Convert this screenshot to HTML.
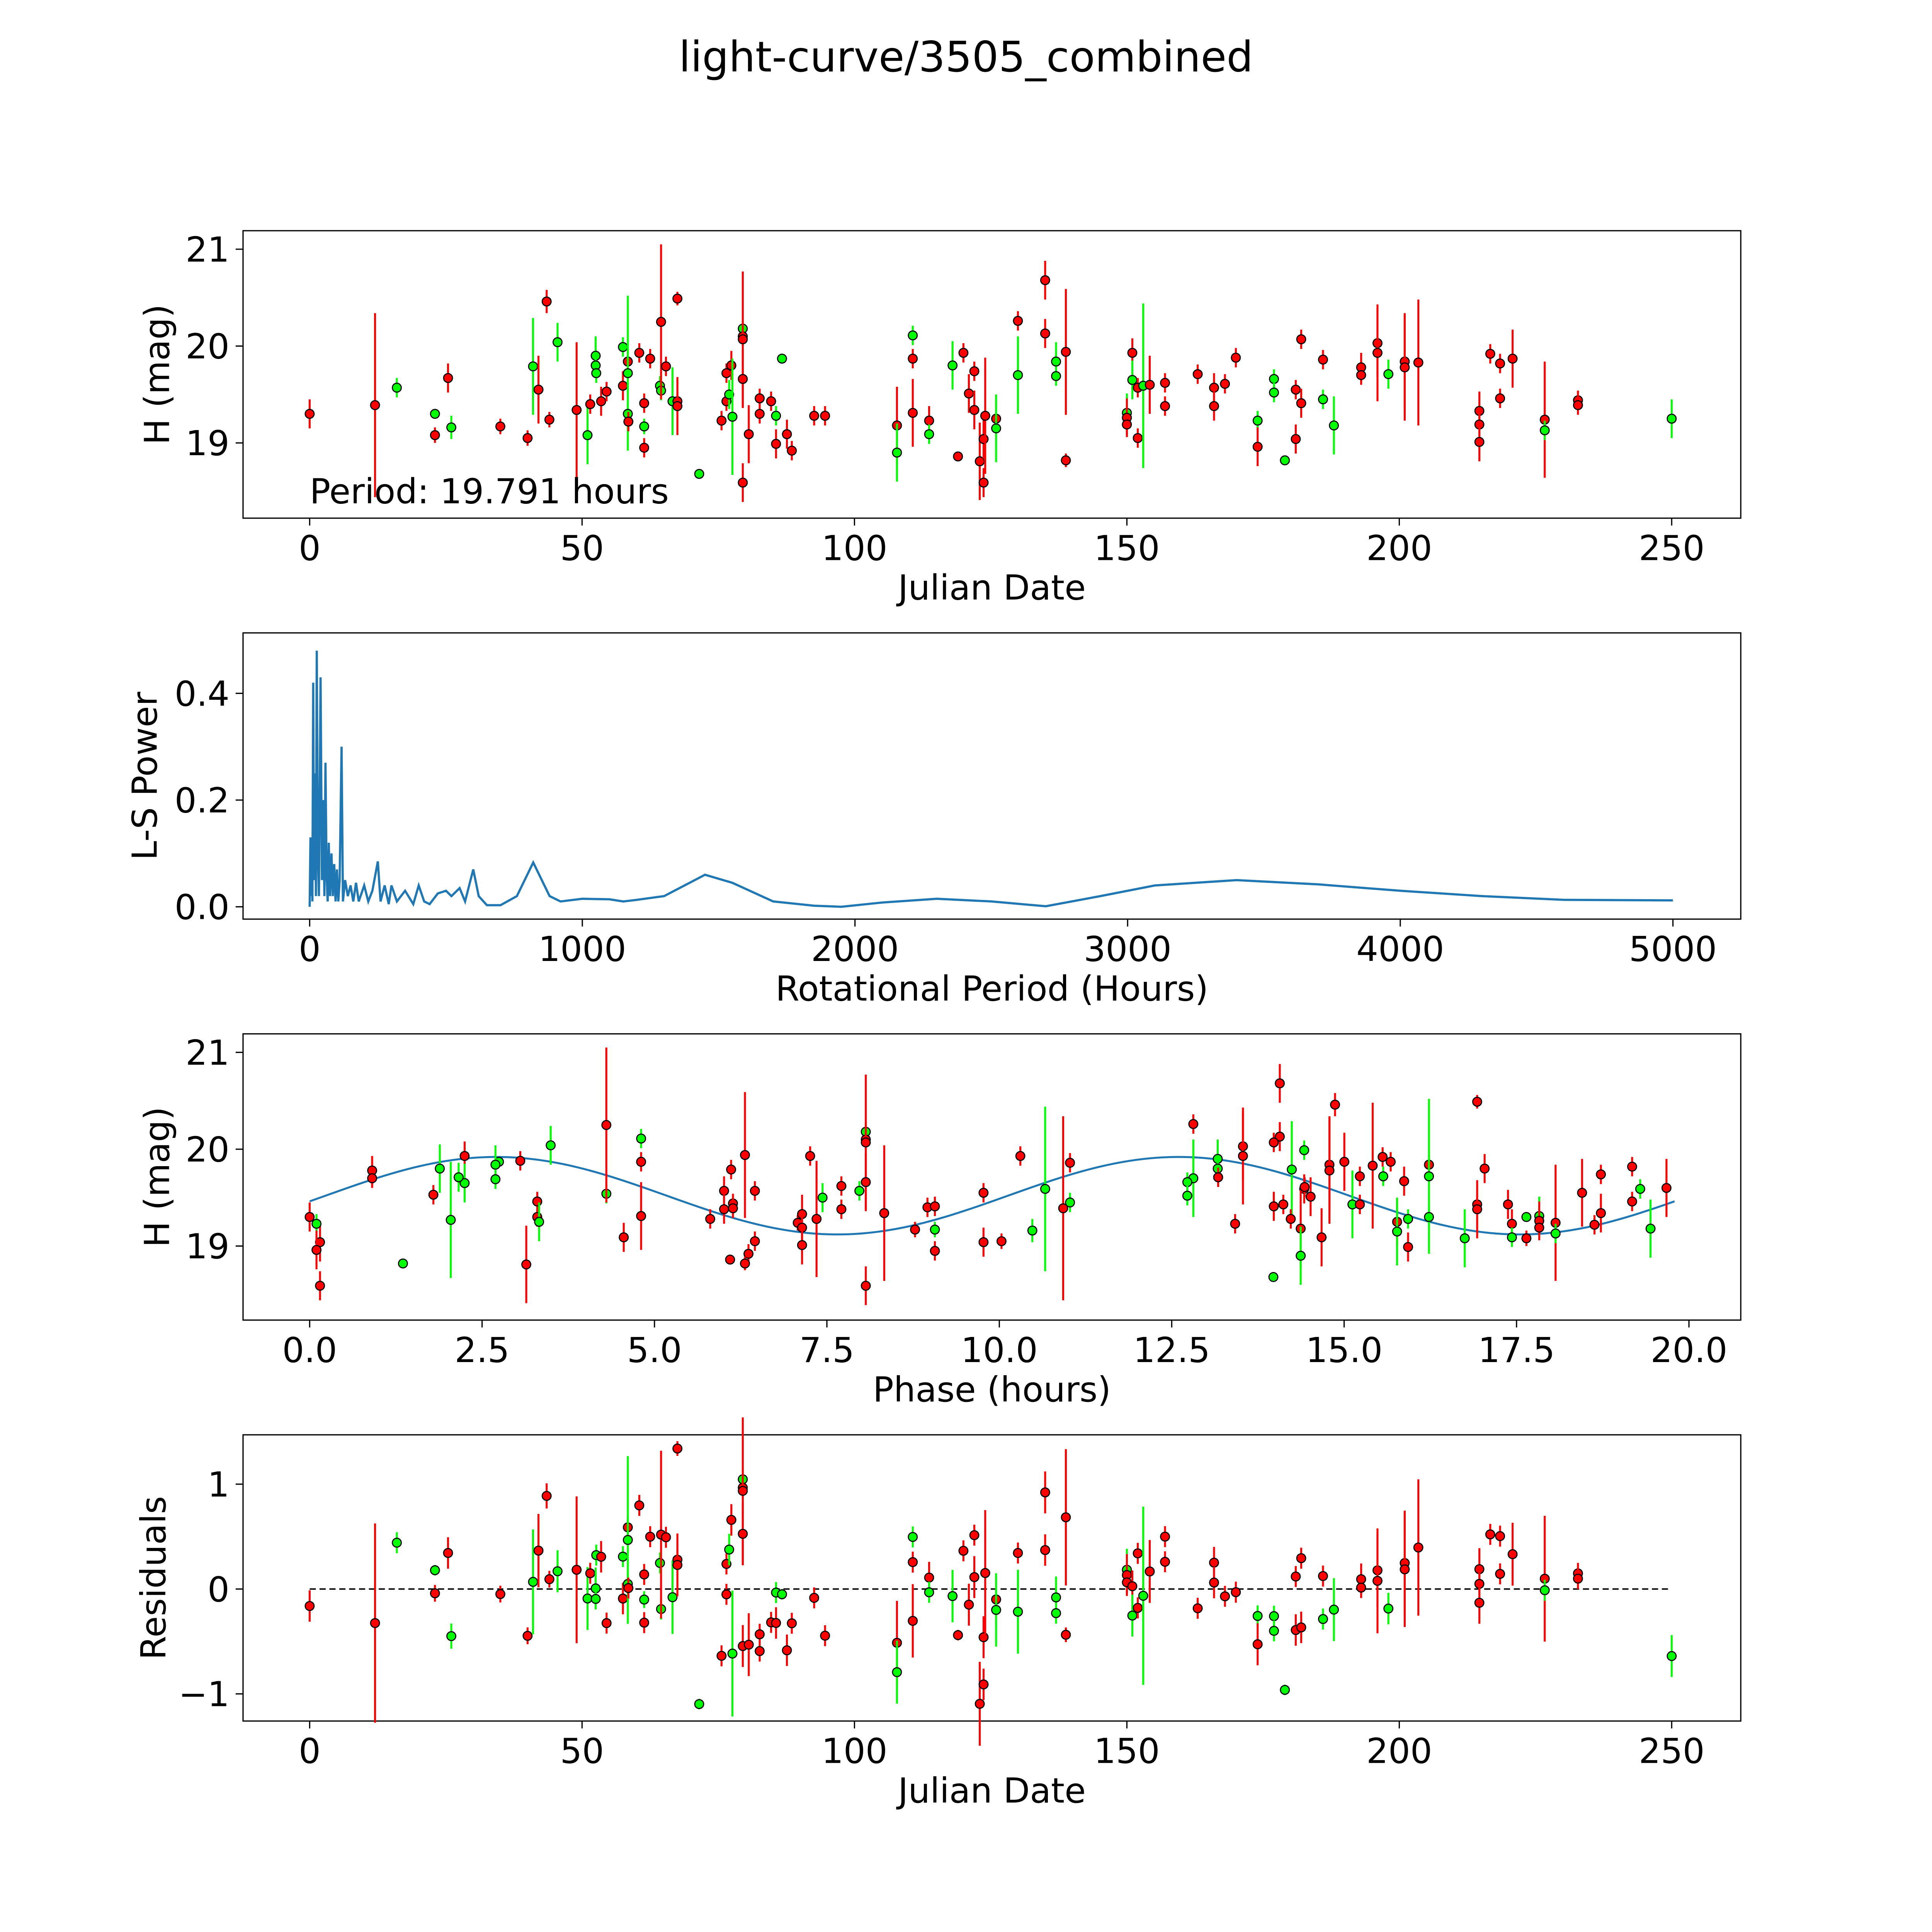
<!DOCTYPE html>
<html><head><meta charset="utf-8"><style>html,body{margin:0;padding:0;background:#fff;width:100%;height:100%;overflow:hidden}svg{display:block;width:100vw;height:100vh}text{font-family:"DejaVu Sans","Liberation Sans",sans-serif;fill:#000}</style></head>
<body>
<svg id="fig" viewBox="0 0 1566 1566" preserveAspectRatio="none" xmlns="http://www.w3.org/2000/svg">
<text x="783" y="58" font-size="34" text-anchor="middle">light-curve/3505_combined</text>
</svg>
<script>
// observations: dates (days), magnitudes, errors, filter colour
const dates=[0,12,16,23,23,25.4,26,35,40,41,42,43.5,44,45.5,49,51,51.5,52.5,52.5,52.6,53.5,54.5,57.5,57.5,58.4,58.4,58.4,58.5,60.5,61.4,61.4,61.4,62.5,64.3,64.5,64.5,65.4,66.6,67.5,67.5,67.5,71.5,75.6,76.5,76.5,77,77.4,77.6,79.5,79.5,79.5,79.5,79.5,80.6,82.6,82.6,84.7,85.6,85.6,86.7,87.6,88.5,92.6,94.6,107.8,107.8,110.7,110.7,110.7,113.7,113.7,118,119,120,121,122,122,123,123.7,123.7,124,126,126,130,130,135,135,137,137,138.8,138.8,150,150,150,151,151,152,152,153,154.2,157,157,163,166,166,168,170,174,174,177,177,179,181,181,182,182,186,186,188,193,193,196,196,198,201,201,203.5,214.7,214.7,214.7,216.7,218.5,218.5,220.8,226.7,226.7,232.8,232.8,250];
const mags=[19.3,19.39,19.57,19.3,19.08,19.67,19.16,19.17,19.05,19.79,19.55,20.46,19.24,20.04,19.34,19.08,19.4,19.9,19.8,19.72,19.43,19.53,19.99,19.59,19.84,19.72,19.3,19.22,19.93,19.41,19.17,18.95,19.87,19.59,19.54,20.25,19.79,19.43,20.49,19.43,19.38,18.68,19.23,19.72,19.43,19.5,19.8,19.27,20.18,20.1,20.07,19.66,18.59,19.09,19.46,19.3,19.43,18.99,19.28,19.87,19.09,18.92,19.28,19.28,19.18,18.9,20.11,19.87,19.31,19.23,19.09,19.8,18.86,19.93,19.51,19.74,19.34,18.81,19.04,18.59,19.28,19.25,19.15,20.26,19.7,20.68,20.13,19.84,19.69,19.94,18.82,19.31,19.26,19.19,19.93,19.65,19.05,19.57,19.59,19.6,19.62,19.38,19.71,19.57,19.38,19.61,19.88,19.23,18.96,19.66,19.52,18.82,19.55,19.04,20.07,19.41,19.86,19.45,19.18,19.78,19.7,20.03,19.93,19.71,19.84,19.78,19.83,19.33,19.19,19.01,19.92,19.82,19.46,19.87,19.24,19.13,19.44,19.39,19.25];
const errs=[0.15,0.95,0.1,0.05,0.08,0.15,0.12,0.08,0.08,0.5,0.35,0.12,0.08,0.2,0.7,0.3,0.1,0.2,0.1,0.1,0.15,0.1,0.1,0.15,0.1,0.8,0.1,0.1,0.1,0.1,0.08,0.1,0.1,0.1,0.1,0.8,0.1,0.35,0.07,0.1,0.3,0.05,0.1,0.1,0.1,0.15,0.15,0.6,0.1,0.1,0.7,0.3,0.2,0.3,0.1,0.1,0.1,0.15,0.1,0.05,0.15,0.1,0.1,0.1,0.4,0.3,0.1,0.1,0.35,0.15,0.1,0.25,0.05,0.1,0.2,0.1,0.2,0.4,0.2,0.15,0.6,0.25,0.35,0.1,0.4,0.2,0.15,0.2,0.1,0.65,0.07,0.2,0.2,0.1,0.15,0.2,0.1,0.1,0.85,0.3,0.1,0.1,0.1,0.15,0.15,0.1,0.1,0.1,0.2,0.1,0.1,0.05,0.1,0.15,0.1,0.15,0.1,0.1,0.3,0.15,0.1,0.35,0.5,0.15,0.5,0.55,0.65,0.2,0.15,0.2,0.1,0.1,0.1,0.3,0.6,0.1,0.1,0.1,0.2];
const colors="rrggrrgrrg"+"rrrgrgrggg"+"rrgrrggrrr"+"grrggrrgrr"+"rgrrrgrggr"+"rrrrrrrrgg"+"rrrrrggrrr"+"ggrrrrrrrr"+"rrgrgrrggr"+"rgrrrgrrgr"+"rrrrrrrgrg"+"ggrrrrrggr"+"rrrgrrrrrr"+"rrrrrgrrg";
// periodogram
const lsPeriods=[0,3,5,8,10,13,16,20,23,26,30,34,40,45,50,54,58,62,66,70,75,80,85,90,95,100,105,110,117,122,130,140,150,160,170,180,200,215,230,250,260,275,290,300,320,350,380,400,420,440,470,500,520,550,570,600,620,650,700,760,820,880,920,1000,1100,1150,1200,1300,1450,1550,1700,1850,1950,2100,2300,2500,2700,2900,3100,3400,3700,4000,4300,4600,5000];
const lsPower=[0,0.13,0.02,0.1,0.01,0.42,0.05,0.25,0.02,0.48,0.1,0.02,0.43,0.05,0.2,0.02,0.27,0.06,0.01,0.12,0.02,0.1,0.02,0.08,0.01,0.07,0.01,0.05,0.3,0.01,0.05,0.02,0.04,0.01,0.045,0.01,0.04,0.01,0.03,0.085,0.01,0.04,0.005,0.04,0.01,0.03,0.005,0.04,0.01,0.005,0.025,0.03,0.02,0.035,0.01,0.07,0.02,0.003,0.003,0.02,0.083,0.02,0.01,0.015,0.014,0.01,0.013,0.02,0.06,0.045,0.01,0.002,0,0.008,0.015,0.01,0.001,0.02,0.04,0.05,0.042,0.03,0.02,0.013,0.012];
const period=19.791, modelMean=19.52, modelAmp=0.40, modelPhase0=0.23;
const xTicksDate=[0,50,100,150,200,250];
const xTicksLS=[0,1000,2000,3000,4000,5000];
const xTicksPhase=[0,2.5,5,7.5,10,12.5,15,17.5,20];
const yTicksMag=[19,20,21];
const yTicksLS=[0,0.2,0.4];
const yTicksRes=[-1,0,1];

const NS="http://www.w3.org/2000/svg";
const svg=document.getElementById('fig');
function el(t,a,p){const e=document.createElementNS(NS,t);for(const k in a)e.setAttribute(k,a[k]);(p||svg).appendChild(e);return e;}
function lin(d0,d1,r0,r1){return v=>r0+(v-d0)*(r1-r0)/(d1-d0);}
function model(ph){return modelMean+modelAmp*Math.sin(2*Math.PI*2*(ph-modelPhase0)/period);}
const phases=dates.map(d=>(d*24)%period);
const resid=mags.map((m,i)=>m-model(phases[i]));

function panel(name,x0,y0,x1,y1,sx,sy,xt,yt,fmtX,fmtY,xlab,ylab,ylabX){
  const g=el('g',{});
  
  
  const fr=el('rect',{x:x0,y:y0,width:x1-x0,height:y1-y0,fill:'none',stroke:'#000','stroke-width':1},g);
  
  
  xt.forEach(v=>{const x=sx(v);el('line',{x1:x,x2:x,y1:y1,y2:y1+6,stroke:'#000'},g);
    const t=el('text',{x:x,y:y1+34,'font-size':28,'text-anchor':'middle'},g);t.textContent=fmtX(v);
    
    });
  yt.forEach(v=>{const y=sy(v);el('line',{x1:x0-6,x2:x0,y1:y,y2:y,stroke:'#000'},g);
    const t=el('text',{x:x0-11,y:y+10,'font-size':28,'text-anchor':'end'},g);t.textContent=fmtY(v);
    
    });
  const xl=el('text',{x:(x0+x1)/2,y:y1+66,'font-size':28,'text-anchor':'middle'},g);xl.textContent=xlab;
  
  
  const yl=el('text',{x:ylabX,y:(y0+y1)/2,'font-size':28,'text-anchor':'middle',transform:`rotate(-90 ${ylabX} ${(y0+y1)/2})`},g);yl.textContent=ylab;
  
  
  return g;
}
function points(g,xs,ys,name){
  xs.forEach((x,i)=>{const c=colors[i]==='g'?'#00ff00':'#ff0000';
    const y=ys[i];
    const l=el('line',{x1:x,x2:x,y1:y.top,y2:y.bot,stroke:c,'stroke-width':1.6},g);
    
    
    const p=el('circle',{cx:x,cy:y.c,r:3.6,fill:c,stroke:'#000','stroke-width':0.9},g);
    
    });
}
const fmtInt=v=>String(v), fmt1=v=>v.toFixed(1), fmtRes=v=>v<0?'\u2212'+Math.abs(v):String(v);

// Panel 1
const sx1=lin(0,250,251,1355), sy1=lin(19,21,359,202);
const g1=panel('light-curve-panel',197,187,1411,420,sx1,sy1,xTicksDate,yTicksMag,fmtInt,fmtInt,'Julian Date','H (mag)',137);
points(g1,dates.map(sx1),mags.map((m,i)=>({c:sy1(m),top:sy1(m+errs[i]),bot:sy1(m-errs[i])})),'observation');
const pt=el('text',{x:251,y:408,'font-size':28},g1);pt.textContent='Period: 19.791 hours';



// Panel 2
const sx2=lin(0,5000,251,1356), sy2=lin(0,0.4,735,562);
const g2=panel('periodogram-panel',197,513,1411,745,sx2,sy2,xTicksLS,yTicksLS,fmtInt,fmt1,'Rotational Period (Hours)','L-S Power',127);
const lp=el('path',{d:lsPeriods.map((p,i)=>(i?'L':'M')+sx2(p).toFixed(2)+' '+sy2(lsPower[i]).toFixed(2)).join(' '),fill:'none',stroke:'#1f77b4','stroke-width':1.8},g2);



// Panel 3
const sx3=lin(0,20,251,1369), sy3=lin(19,21,1010,853);
const g3=panel('phase-panel',197,838,1411,1070,sx3,sy3,xTicksPhase,yTicksMag,fmt1,fmtInt,'Phase (hours)','H (mag)',137);
let md='';for(let k=0;k<=200;k++){const ph=period*k/200;md+=(k?'L':'M')+sx3(ph).toFixed(2)+' '+sy3(model(ph)).toFixed(2)+' ';}
const ml=el('path',{d:md,fill:'none',stroke:'#1f77b4','stroke-width':1.6},g3);


points(g3,phases.map(sx3),mags.map((m,i)=>({c:sy3(m),top:sy3(m+errs[i]),bot:sy3(m-errs[i])})),'phased-observation');

// Panel 4
const sx4=sx1, sy4=lin(0,1,1288,1203);
const g4=panel('residuals-panel',197,1163,1411,1395,sx4,sy4,xTicksDate,yTicksRes,fmtInt,fmtRes,'Julian Date','Residuals',134);
const zl=el('line',{x1:sx4(0),x2:sx4(250),y1:sy4(0),y2:sy4(0),stroke:'#000','stroke-dasharray':'5 3','stroke-width':1.2},g4);


points(g4,dates.map(sx4),resid.map((r,i)=>({c:sy4(r),top:sy4(r+errs[i]),bot:sy4(r-errs[i])})),'residual');
</script>
</body></html>
